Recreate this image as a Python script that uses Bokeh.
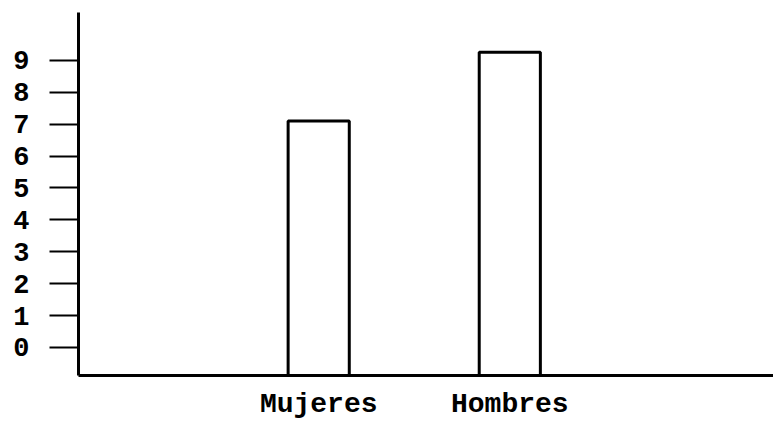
from bokeh.plotting import figure
from bokeh.models import Range1d, FixedTicker
from bokeh.embed import file_html
from bokeh.resources import INLINE

categories = ["Mujeres", "Hombres"]
values = [7.1, 9.25]
y_ticks = [0, 1, 2, 3, 4, 5, 6, 7, 8, 9]
BASE = -0.88

xs = list(range(len(categories)))

p = figure(width=773, height=422, output_backend="svg", toolbar_location=None,
           x_range=Range1d(-1.257, 2.38), y_range=Range1d(BASE, 10.5),
           min_border_left=78, min_border_right=0, min_border_top=12, min_border_bottom=47)
p.outline_line_color = None
p.xgrid.visible = False
p.ygrid.visible = False
p.background_fill_color = "white"
p.border_fill_color = "white"

p.vbar(x=xs, top=values, bottom=BASE, width=0.32, fill_color="white",
       line_color="black", line_width=3)

font = "Liberation Mono"
p.yaxis.ticker = FixedTicker(ticks=y_ticks)
p.yaxis.axis_line_width = 3
p.yaxis.major_tick_out = 29
p.yaxis.major_tick_in = 0
p.yaxis.major_tick_line_width = 2
p.yaxis.minor_tick_line_color = None
p.yaxis.major_label_standoff = 20
p.yaxis.major_label_text_font = font
p.yaxis.major_label_text_font_style = "bold"
p.yaxis.major_label_text_font_size = "27px"
p.yaxis.major_label_text_color = "black"

p.xaxis.ticker = FixedTicker(ticks=xs)
p.xaxis.major_label_overrides = {i: c for i, c in zip(xs, categories)}
p.xaxis.axis_line_width = 3
p.xaxis.major_tick_line_color = None
p.xaxis.minor_tick_line_color = None
p.xaxis.major_tick_out = 0
p.xaxis.major_tick_in = 0
p.xaxis.major_label_standoff = 13
p.xaxis.major_label_text_font = font
p.xaxis.major_label_text_font_style = "bold"
p.xaxis.major_label_text_font_size = "28px"
p.xaxis.major_label_text_color = "black"

open("out.html", "w").write(file_html(p, INLINE))
